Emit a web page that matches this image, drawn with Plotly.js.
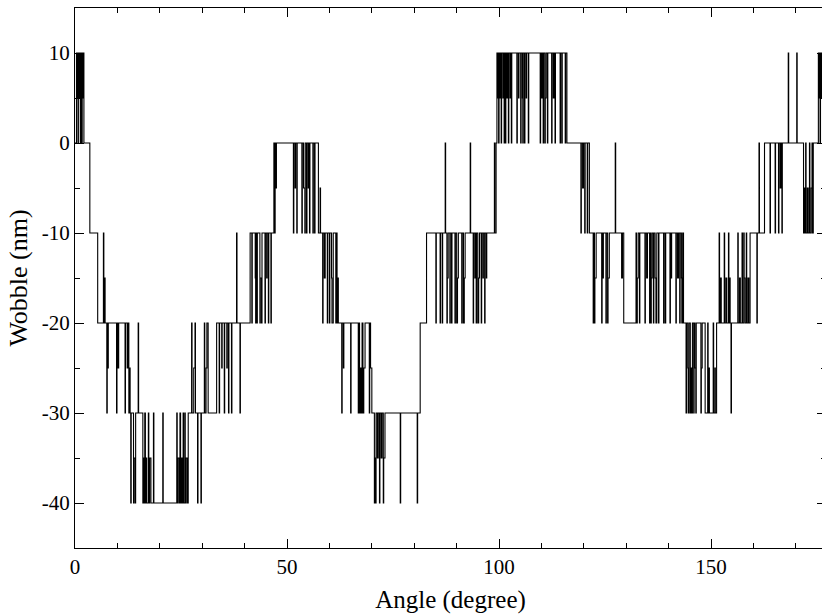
<!DOCTYPE html>
<html>
<head>
<meta charset="utf-8">
<script src="https://cdn.plot.ly/plotly-3.0.1.min.js"></script>
<style>
html,body{margin:0;padding:0;overflow:hidden;background:#fff;}
#chart{width:830px;height:614px;}
</style>
</head>
<body>
<div id="chart"></div>
<script>
// Step samples [angle (degree), wobble (nm)], grouped by angle range
const samples0to30 = [
  [0,0],[0.35,10],[0.45,5],[0.55,10],[0.7,0],[0.8,10],[1.0,5],[1.1,10],[1.25,0],[1.35,10],[1.5,5],[1.6,0],[1.7,10],[1.85,5],[1.95,10],[2.1,0],
  [3.5,-10],[5.35,-20],
  [6.7,-10],[6.8,-20],[7.0,-15],[7.1,-20],
  [7.5,-30],[7.6,-20],[7.75,-25],[7.85,-20],
  [9.8,-30],[9.9,-20],[10.1,-25],[10.3,-20],
  [11.8,-30],[11.9,-20],[12.3,-25],[12.5,-20],[12.7,-30],[12.8,-25],[13.0,-30],
  [13.15,-40],[13.25,-30],[13.8,-40],[13.9,-35],[14.2,-40],[14.3,-30],
  [14.9,-20],[15.0,-30],
  [16.0,-40],[16.1,-35],[16.3,-40],[16.45,-30],[16.6,-40],[16.7,-35],[16.9,-40],
  [17.3,-30],[17.4,-40],[17.6,-35],[17.9,-40],[18.5,-30],[18.6,-40],[20.7,-30],[20.8,-40],
  [24.0,-30],[24.1,-40],[24.3,-35],[24.6,-40],[24.75,-30],[24.9,-40],[25.1,-35],[25.3,-40],[25.5,-30],[25.6,-40],[25.9,-30],[26.0,-40],[26.2,-35],[26.5,-40],[26.7,-30],
  [27.5,-20],[27.6,-30],[28.0,-25],[28.3,-20],[28.4,-30],
  [28.9,-40],[29.0,-30],[29.7,-40],[29.8,-30]
];
const samples30to60 = [
  [30.5,-20],[30.6,-30],[30.9,-25],[31.1,-20],[31.4,-30],
  [33.4,-20],[34.0,-30],[34.1,-20],[34.6,-25],[34.7,-20],[35.2,-30],[35.3,-20],[35.8,-25],[35.9,-20],[36.2,-30],[36.3,-20],[36.9,-30],[37.0,-20],
  [38.1,-10],[38.2,-20],[38.9,-30],[39.0,-20],
  [41.3,-10],
  [41.7,-20],[41.8,-10],[42.5,-15],[42.6,-20],[42.7,-10],[42.9,-20],[43.0,-10],[43.6,-20],[43.7,-15],[44.0,-20],[44.1,-10],[44.8,-20],[44.9,-10],[45.2,-15],[45.3,-10],[45.6,-20],[45.7,-10],[46.2,-20],[46.3,-10],
  [46.9,0],[47.0,-10],[47.2,0],[47.3,-5],[47.5,0],
  [51.5,-10],[51.6,0],[51.9,-5],[52.0,0],[52.3,-10],[52.4,0],[53.5,-10],[53.6,0],[53.9,-5],[54.2,-10],[54.3,0],[54.6,-10],[54.7,0],[55.0,-5],[55.1,0],[55.3,-10],[55.4,0],[56.1,-10],[56.2,0],[56.5,-10],[56.6,0],
  [57.4,-10],[57.8,-5],[57.9,-10],
  [58.4,-20],[58.5,-10],[58.8,-15],[59.0,-10],[59.5,-20],[59.6,-10]
];
const samples60to90 = [
  [60.0,-20],[60.1,-10],[60.5,-15],[60.6,-20],[60.9,-10],[61.5,-20],[61.6,-10],[61.8,-20],[61.9,-15],[62.1,-20],
  [62.9,-30],[63.0,-20],[63.3,-25],[63.4,-20],[65.0,-30],[65.1,-20],[66.8,-30],[66.9,-20],[67.1,-30],[67.3,-25],[67.5,-30],[67.7,-20],[67.9,-30],[68.1,-25],[68.4,-20],[69.4,-30],[69.5,-20],[69.7,-25],[70.0,-30],
  [70.6,-40],[70.7,-35],[70.9,-40],[71.0,-30],[71.3,-35],[71.5,-30],[71.8,-40],[71.9,-30],[72.2,-35],[72.4,-30],[72.7,-40],[72.8,-35],[73.1,-30],[76.7,-40],[76.8,-30],[80.7,-40],[80.8,-30],
  [81.4,-20],[82.9,-10],
  [85.1,-20],[85.2,-10],[86.1,-20],[86.2,-10],[86.6,-20],[86.7,-10],
  [87.3,0],[87.4,-10],
  [87.7,-20],[87.8,-15],[88.0,-10],[88.4,-20],[88.5,-10],[88.8,-20],[88.9,-10],[89.6,-20],[89.7,-10]
];
const samples90to120 = [
  [90.0,-20],[90.2,-15],[90.4,-10],[91.2,-20],[91.3,-10],[91.6,-20],[91.8,-15],[92.0,-10],
  [93.2,0],[93.3,-10],
  [93.9,-20],[94.0,-10],[94.3,-15],[94.4,-10],[94.6,-20],[94.7,-10],[95.0,-20],[95.2,-15],[95.4,-10],[95.8,-20],[95.9,-10],[96.2,-15],[96.3,-10],[96.6,-20],[96.7,-10],[97.0,-15],[97.1,-10],
  [98.9,0],[99.0,-10],[99.3,0],
  [99.5,10],[99.6,5],[99.7,10],[99.9,0],[100.0,10],[100.2,5],[100.3,10],[100.5,0],[100.6,10],[100.9,5],[101.0,10],[101.2,0],[101.3,10],[101.5,0],[101.6,10],[101.8,5],[102.0,10],[102.2,0],[102.3,10],[102.6,5],[102.7,10],[102.9,0],[103.0,10],
  [104.2,0],[104.3,10],[104.6,5],[104.7,10],[105.1,0],[105.2,10],[105.5,5],[105.6,0],[105.7,10],[106.0,0],[106.1,10],[106.4,5],[106.5,10],[106.9,0],[107.0,10],
  [109.7,0],[109.8,10],[110.0,5],[110.2,10],[110.4,0],[110.5,10],[110.8,0],[110.9,5],[111.1,10],[111.4,0],[111.5,10],[112.4,0],[112.5,10],[112.8,5],[113.0,10],[113.2,0],[113.3,10],[114.4,0],[114.5,10],[114.8,0],[114.9,10],[115.6,0],[115.7,10],[116.0,0],
  [119.3,-10],[119.4,0],[119.7,-5],[119.9,0]
];
const samples120to150 = [
  [120.2,-10],[120.3,0],[120.8,-10],[120.9,0],[121.3,-10],
  [122.2,-20],[122.3,-10],[122.5,-20],[122.6,-15],[122.9,-10],[124.2,-20],[124.3,-10],[124.5,-15],[124.6,-10],[125.2,-20],[125.3,-10],[125.6,-20],[125.7,-15],[126.0,-10],
  [127.4,0],[127.5,-10],
  [128.9,-15],[129.1,-10],[129.4,-20],
  [132.3,-10],[132.4,-20],[132.6,-15],[132.8,-10],[133.1,-20],[133.2,-10],
  [134.4,-20],[134.5,-10],[134.8,-15],[135.0,-10],[135.5,-20],[135.6,-10],[135.8,-20],[135.9,-15],[136.1,-10],[136.4,-20],[136.5,-10],[136.8,-15],[137.0,-20],[137.2,-10],[137.6,-20],[137.7,-10],[138.8,-20],[138.9,-10],[139.2,-20],[139.3,-10],
  [140.3,-20],[140.4,-10],[140.6,-15],[140.7,-10],[141.7,-20],[141.8,-10],[142.1,-15],[142.3,-10],[142.6,-20],[142.7,-10],[143.0,-15],[143.1,-20],[143.3,-10],[143.5,-20],
  [144.1,-30],[144.2,-20],[144.5,-25],[144.6,-30],[144.8,-20],[145.1,-30],[145.2,-25],[145.4,-30],[145.6,-20],[145.9,-30],[146.0,-20],[146.2,-25],[146.4,-30],[146.5,-20],
  [147.6,-30],[147.7,-25],[147.9,-20],[148.6,-30],
  [149.2,-20],[149.3,-30],[149.5,-25],[149.6,-30]
];
const samples150to177 = [
  [150.5,-20],[150.6,-30],[150.9,-25],[151.0,-30],[151.3,-20],
  [151.9,-10],[152.0,-20],[152.2,-15],[152.4,-20],[153.1,-10],[153.2,-20],[153.5,-15],[153.7,-20],[154.1,-10],[154.2,-20],[154.4,-15],[154.5,-20],
  [154.7,-30],[154.8,-20],
  [156.3,-10],[156.4,-20],[156.7,-15],[156.9,-20],[157.3,-10],[157.4,-20],[157.7,-10],[157.8,-15],[158.0,-20],[158.3,-10],[158.4,-20],[158.7,-15],[158.9,-20],[159.2,-10],
  [160.8,-20],[160.9,-10],
  [161.3,0],[161.4,-10],[162.6,0],
  [163.9,-10],[164.0,0],[165.1,-10],[165.2,0],[165.9,-10],[166.0,0],[166.3,-5],[166.5,0],[166.7,-10],[166.8,0],
  [168.2,10],[168.3,0],[170.2,10],[170.3,0],
  [171.8,-10],[171.9,-5],[172.1,-10],[172.3,0],[172.4,-10],[172.7,-5],[172.9,-10],[173.2,0],[173.3,-10],[173.6,-5],[173.8,0],[173.9,-10],[174.1,0],
  [175.3,10],[175.4,5],[175.5,10],[175.7,0],[175.8,10],[176.0,5],[176.1,10],[176.5,0],[176.6,10],[177.2,10]
];

const xTickValues = [0, 50, 100, 150];
const xTickLabels = ['0', '50', '100', '150'];
const yTickValues = [10, 0, -10, -20, -30, -40];
const yTickLabels = ['10', '0', '-10', '-20', '-30', '-40'];

const allSamples = [].concat(samples0to30, samples30to60, samples60to90, samples90to120, samples120to150, samples150to177);
const angle = allSamples.map(p => p[0]);
const wobble = allSamples.map(p => p[1]);

const serif = '"Liberation Serif", "Times New Roman", Times, serif';

const trace = {
  x: angle, y: wobble, type: 'scatter', mode: 'lines',
  line: {color: '#000', width: 1.1, shape: 'hv'},
  hoverinfo: 'skip'
};

const axisCommon = {
  showgrid: false, zeroline: false, showline: true, linecolor: '#000', linewidth: 1,
  ticks: 'inside', ticklen: 9, tickwidth: 1, tickcolor: '#000', mirror: 'allticks',
  tickfont: {family: serif, size: 21, color: '#000'}
};

const layout = {
  width: 830, height: 614,
  margin: {l: 75, r: 4, t: 8, b: 66},
  paper_bgcolor: '#fff', plot_bgcolor: '#fff',
  showlegend: false,
  xaxis: Object.assign({}, axisCommon, {
    range: [0, 177.1], tickmode: 'array', tickvals: xTickValues, ticktext: xTickLabels,
    minor: {dtick: 10, tick0: 0, ticks: 'inside', ticklen: 5, tickwidth: 1, tickcolor: '#000'},
    title: {text: 'Angle (degree)', font: {family: serif, size: 25, color: '#000'}, standoff: 13}
  }),
  yaxis: Object.assign({}, axisCommon, {
    range: [-45, 15], tickmode: 'array', tickvals: yTickValues, ticktext: yTickLabels,
    minor: {dtick: 5, tick0: 0, ticks: 'inside', ticklen: 5, tickwidth: 1, tickcolor: '#000'},
    title: {text: 'Wobble (nm)', font: {family: serif, size: 26, color: '#000'}, standoff: 6}
  })
};

Plotly.newPlot('chart', [trace], layout, {staticPlot: true, displayModeBar: false});
</script>
</body>
</html>
